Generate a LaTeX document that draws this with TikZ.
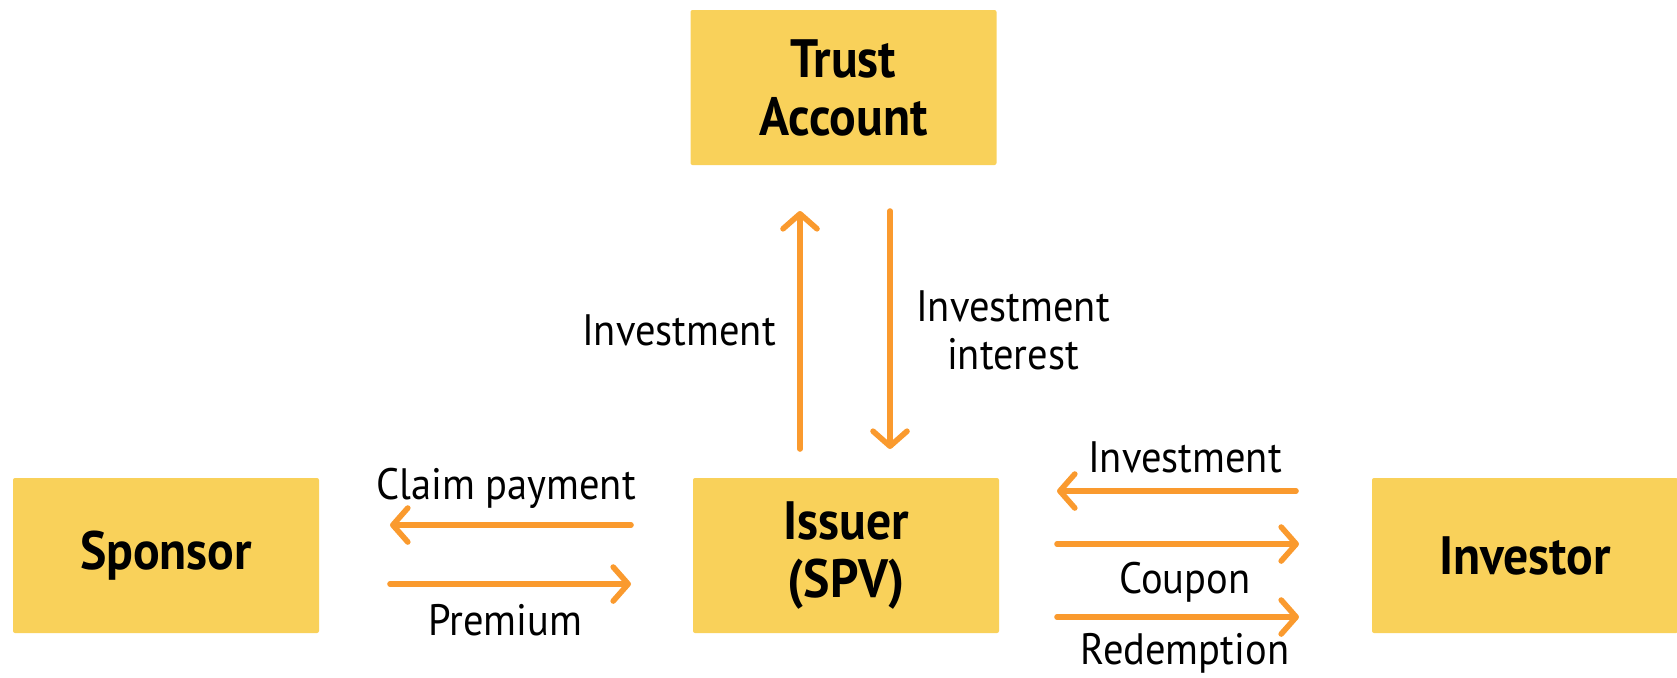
\documentclass[tikz,border=0pt]{standalone}
\usepackage{fontspec}
\setmainfont{PT Sans}[FakeStretch=0.92]
\usetikzlibrary{arrows.meta}
\definecolor{boxfill}{HTML}{F9D15A}
\definecolor{flow}{HTML}{FA9A2E}
\tikzset{
  entity/.style={fill=boxfill, rounded corners=1pt, minimum width=153pt, minimum height=77.5pt, inner sep=0pt, align=center, font=\fontsize{27}{29}\selectfont\bfseries},
  flowarrow/.style={draw=flow, line width=2.8pt, line cap=round, -{Straight Barb[length=7.5pt,width=17pt,round]}},
  lbl/.style={inner sep=0pt, align=center, font=\fontsize{22}{24}\selectfont}
}
\begin{document}
\begin{tikzpicture}[x=0.5pt,y=-0.5pt]
\useasboundingbox (0,0) rectangle (1677,677);
\node[entity] (trust) at (843.5,87.5) {Trust\\Account};
\node[entity] (sponsor) at (166,555.5) {Sponsor};
\node[entity] (issuer) at (846,555.5) {Issuer\\(SPV)};
\node[entity, minimum width=153pt] (investor) at (1525,555.5) {Investor};
% vertical arrows
\coordinate (a1s) at (800,449); \coordinate (a1e) at (800,211);
\coordinate (a2s) at (890,211); \coordinate (a2e) at (890,449);
\draw[flowarrow] (a1s) -- (a1e);
\draw[flowarrow] (a2s) -- (a2e);
\node[lbl] (linv) at (679,330) {Investment};
\node[lbl] (linti) at (1013,330) {Investment\\interest};
% sponsor side
\coordinate (c1s) at (631,525); \coordinate (c1e) at (390,525);
\coordinate (p1s) at (390,584); \coordinate (p1e) at (631,584);
\draw[flowarrow] (c1s) -- (c1e);
\draw[flowarrow] (p1s) -- (p1e);
\node[lbl] (lclaim) at (506,488) {Claim payment};
\node[lbl] (lprem) at (505,620) {Premium};
% investor side
\coordinate (i1s) at (1296,491); \coordinate (i1e) at (1057,491);
\coordinate (k1s) at (1057,544); \coordinate (k1e) at (1299,544);
\coordinate (r1s) at (1057,617); \coordinate (r1e) at (1299,617);
\draw[flowarrow] (i1s) -- (i1e);
\draw[flowarrow] (k1s) -- (k1e);
\draw[flowarrow] (r1s) -- (r1e);
\node[lbl] (linv2) at (1185,457) {Investment};
\node[lbl] (lcoup) at (1185,582) {Coupon};
\node[lbl] (lred) at (1185,653) {Redemption};
\end{tikzpicture}
\end{document}
